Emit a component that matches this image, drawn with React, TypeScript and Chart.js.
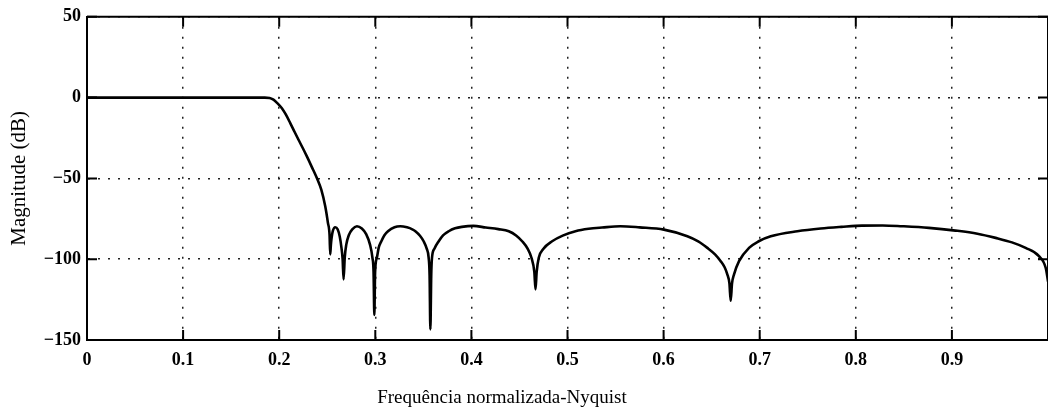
import React, { useEffect, useRef } from "react";
import { Chart, registerables } from "chart.js";

Chart.register(...registerables);

// Normalized frequency (x Nyquist)
const freq: number[] = [
  0, 0.1, 0.185, 0.19, 0.194, 0.198, 0.2028, 0.207, 0.2115, 0.2158, 0.2201,
  0.2245, 0.2288, 0.234, 0.2392, 0.2438, 0.2479, 0.2507, 0.2524, 0.2531,
  0.2538, 0.2545, 0.2558, 0.2583, 0.2608, 0.263, 0.2648, 0.266, 0.267,
  0.2682, 0.2698, 0.2725, 0.276, 0.2809, 0.286, 0.2905, 0.2945, 0.297,
  0.2982, 0.299, 0.2998, 0.3017, 0.3035, 0.3063, 0.3095, 0.3132, 0.32,
  0.326, 0.333, 0.3385, 0.3417, 0.3465, 0.3503, 0.3535, 0.3555, 0.3565,
  0.3573, 0.3582, 0.359, 0.3615, 0.366, 0.3705, 0.3764, 0.383, 0.39, 0.402,
  0.415, 0.428, 0.4389, 0.4465, 0.4528, 0.4585, 0.4625, 0.4655, 0.4667,
  0.4679, 0.4701, 0.475, 0.484, 0.495, 0.5083, 0.522, 0.536, 0.555, 0.575,
  0.6003, 0.6247, 0.636, 0.6455, 0.6535, 0.6594, 0.6635, 0.6663, 0.6685,
  0.6698, 0.6712, 0.6733, 0.6785, 0.6889, 0.699, 0.7115, 0.7392, 0.7635,
  0.785, 0.8066, 0.828, 0.8482, 0.876, 0.9038, 0.9265, 0.9455, 0.9625,
  0.9767, 0.9906, 0.9976, 1.0,
];

// Magnitude (dB)
const magnitude: number[] = [
  0, 0, 0, -0.2, -1.3, -3.4, -6.6, -10.6, -15.8, -21, -26.1,
  -31.2, -36.4, -43, -49.8, -57, -67.3, -77.5, -85, -97,
  -91, -87, -82.5, -80.2, -81.5, -86, -93, -100, -112.5,
  -99, -91, -85, -81.5, -79.6, -81, -84.5, -91, -99,
  -108, -134.5, -108, -99, -93, -88.9, -85.2, -82.7, -80.2,
  -79.6, -80.3, -81.5, -82.7, -85.5, -88.9, -93.5, -99, -110,
  -143.4, -110, -99.1, -93.5, -88.9, -85.3, -82.7, -80.9, -80, -79.4,
  -80.4, -81.4, -82.7, -85.3, -88.9, -93.5, -99.1, -108, -118.7,
  -108, -99.1, -93.5, -88.9, -85.4, -82.7, -81.2, -80.4, -79.6, -80.3,
  -81.7, -85.8, -89, -93, -97, -101.2, -105, -109.4, -115,
  -125.7, -115, -109.4, -101.2, -93, -88.9, -85.8, -82.7, -81,
  -80, -79.2, -79.1, -79.6, -80.6, -82.3, -84.2, -86.8, -89.6,
  -93, -98.1, -105.3, -113.6,
];

const xTickValues: number[] = [0, 0.1, 0.2, 0.3, 0.4, 0.5, 0.6, 0.7, 0.8, 0.9];
const xTickLabels: string[] = ["0", "0.1", "0.2", "0.3", "0.4", "0.5", "0.6", "0.7", "0.8", "0.9"];
const yTickValues: number[] = [50, 0, -50, -100, -150];
const yTickLabels: string[] = ["50", "0", "\u221250", "\u2212100", "\u2212150"];

const xTitle = "Frequência normalizada-Nyquist";
const yTitle = "Magnitude (dB)";

const FONT = "'Liberation Serif', 'Times New Roman', serif";

const framePlugin = {
  id: "frameAndInwardTicks",
  afterDraw(chart: any) {
    const { ctx, chartArea } = chart;
    const xs = chart.scales.x;
    const ys = chart.scales.y;
    const { left, right, top, bottom } = chartArea;
    ctx.save();
    ctx.strokeStyle = "#000";
    ctx.lineWidth = 2;
    ctx.beginPath();
    ctx.moveTo(left, top);
    ctx.lineTo(right, top);
    ctx.moveTo(right, top);
    ctx.lineTo(right, bottom);
    ctx.stroke();
    const len = 10;
    ctx.beginPath();
    [...xTickValues, 1].forEach((v) => {
      const px = xs.getPixelForValue(v);
      ctx.moveTo(px, bottom);
      ctx.lineTo(px, bottom - len);
      ctx.moveTo(px, top);
      ctx.lineTo(px, top + len);
    });
    yTickValues.forEach((v) => {
      const py = ys.getPixelForValue(v);
      ctx.moveTo(left, py);
      ctx.lineTo(left + len, py);
      ctx.moveTo(right, py);
      ctx.lineTo(right - len, py);
    });
    ctx.stroke();
    // x axis title (offset left of the axis centre, as in the original)
    ctx.fillStyle = "#000";
    ctx.font = `19px ${FONT}`;
    ctx.textAlign = "center";
    ctx.textBaseline = "middle";
    ctx.fillText(xTitle, 502, 398);
    ctx.restore();
  },
};

export default function App() {
  const canvasRef = useRef<HTMLCanvasElement | null>(null);

  useEffect(() => {
    if (!canvasRef.current) return;
    const data = freq.map((f, i) => ({ x: f, y: magnitude[i] }));
    const chart = new Chart(canvasRef.current, {
      type: "line",
      data: {
        datasets: [
          {
            data,
            borderColor: "#000",
            borderWidth: 2.6,
            pointRadius: 0,
            fill: false,
            cubicInterpolationMode: "monotone",
            borderJoinStyle: "round",
            borderCapStyle: "round",
          } as any,
        ],
      },
      options: {
        animation: false,
        responsive: false,
        maintainAspectRatio: false,
        layout: { padding: { top: 16, right: 0, bottom: 0, left: 0 } },
        plugins: { legend: { display: false }, tooltip: { enabled: false } },
        scales: {
          x: {
            type: "linear",
            min: 0,
            max: 1,
            afterBuildTicks: (scale: any) => {
              scale.ticks = xTickValues.map((v) => ({ value: v }));
            },
            afterFit: (scale: any) => {
              scale.height = 71;
            },
            ticks: {
              autoSkip: false,
              maxRotation: 0,
              padding: 10,
              color: "#000",
              font: { family: FONT, size: 18, weight: "bold" },
              callback: (v: any) => {
                const i = xTickValues.findIndex((t) => Math.abs(t - Number(v)) < 1e-9);
                return i >= 0 ? xTickLabels[i] : "";
              },
            },
            grid: {
              drawTicks: false,
              color: "#222",
              lineWidth: 1.5,
            },
            border: { display: true, color: "#000", width: 2, dash: [2, 8] },
            title: { display: false },
          },
          y: {
            type: "linear",
            min: -150,
            max: 50,
            afterBuildTicks: (scale: any) => {
              scale.ticks = yTickValues.map((v) => ({ value: v }));
            },
            afterFit: (scale: any) => {
              scale.width = 87;
            },
            ticks: {
              autoSkip: false,
              padding: 6,
              color: "#000",
              font: { family: FONT, size: 18, weight: "bold" },
              callback: (v: any) => {
                const i = yTickValues.indexOf(Number(v));
                return i >= 0 ? yTickLabels[i] : "";
              },
            },
            grid: {
              drawTicks: false,
              color: "#222",
              lineWidth: 1.5,
            },
            border: { display: true, color: "#000", width: 2, dash: [2, 8] },
            title: {
              display: true,
              text: yTitle,
              color: "#000",
              font: { family: FONT, size: 21 },
              padding: { top: 7, bottom: 0 },
            },
          },
        },
      },
      plugins: [framePlugin],
    });
    return () => chart.destroy();
  }, []);

  return (
    <div style={{ position: "absolute", left: 0, top: 0, width: 1048, height: 411, background: "#fff" }}>
      <canvas ref={canvasRef} width={1048} height={411} style={{ display: "block" }} />
    </div>
  );
}
